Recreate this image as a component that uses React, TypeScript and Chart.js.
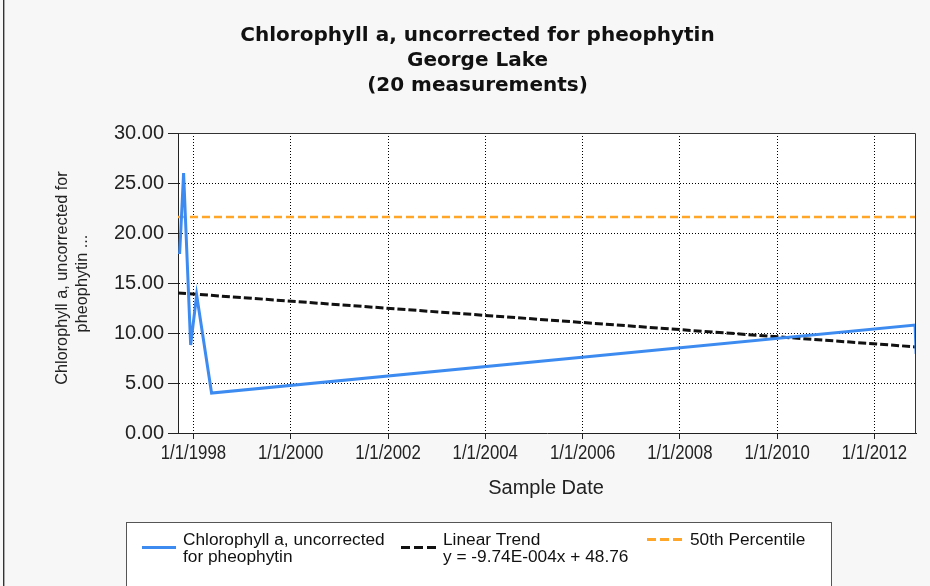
import React, { useEffect, useRef } from "react";
import { Chart, registerables } from "chart.js";

Chart.register(...registerables);

// ---------- data ----------
const TITLE_LINES = ["Chlorophyll a, uncorrected for pheophytin", "George Lake", "(20 measurements)"];
const Y_TITLE_LINES = ["Chlorophyll a, uncorrected for", "pheophytin ..."];
const X_TITLE = "Sample Date";

const SAMPLE_DATES = [
  "1997-09-19",
  "1997-09-29",
  "1997-10-19",
  "1997-12-11",
  "1998-01-25",
  "1998-05-17",
  "2012-11-01",
  "2012-11-09",
];
const SAMPLE_VALUES = [17.9, 20.5, 26.0, 8.8, 13.8, 4.0, 10.8, 7.9];

const TREND_SLOPE = -9.74e-4; // per day (OLE date)
const TREND_INTERCEPT = 48.76;
const PERCENTILE_50 = 21.6;

const X_MIN_DATE = "1997-09-07";
const X_MAX_DATE = "2012-11-08";
const X_TICK_YEARS = [1998, 2000, 2002, 2004, 2006, 2008, 2010, 2012];
const Y_TICKS = [0, 5, 10, 15, 20, 25, 30];

const LEGEND_SERIES = ["Chlorophyll a, uncorrected", "for pheophytin"];
const LEGEND_TREND = ["Linear Trend", "y = -9.74E-004x + 48.76"];
const LEGEND_PCT = ["50th Percentile"];

// ---------- helpers ----------
const oleDay = (s: string) => {
  const [y, m, d] = s.split("-").map(Number);
  return (Date.UTC(y, m - 1, d) - Date.UTC(1899, 11, 30)) / 86400000;
};
const oleToLabel = (v: number) => {
  const dt = new Date(Date.UTC(1899, 11, 30) + v * 86400000);
  return `${dt.getUTCMonth() + 1}/${dt.getUTCDate()}/${dt.getUTCFullYear()}`;
};

const BLUE = "#3D8BF0";
const BLACK = "#111111";
const ORANGE = "#FFA628";
const SANS = '"Liberation Sans", Arial, sans-serif';

const customPlugin = {
  id: "customDecor",
  beforeDraw(chart: any) {
    const { ctx, chartArea: a } = chart;
    ctx.save();
    ctx.fillStyle = "#f7f7f7";
    ctx.fillRect(0, 0, chart.width, chart.height);
    ctx.fillStyle = "#ffffff";
    ctx.fillRect(a.left, a.top, a.right - a.left, a.bottom - a.top);
    ctx.restore();
  },
  afterDraw(chart: any) {
    const { ctx, chartArea: a } = chart;
    ctx.save();
    // plot frame (top & right)
    ctx.strokeStyle = "#333";
    ctx.lineWidth = 1;
    ctx.beginPath();
    ctx.moveTo(Math.round(a.left) + 0.5, Math.round(a.top) + 0.5);
    ctx.lineTo(Math.round(a.right) - 0.5, Math.round(a.top) + 0.5);
    ctx.lineTo(Math.round(a.right) - 0.5, Math.round(a.bottom) + 0.5);
    ctx.stroke();

    // left edge bar
    ctx.fillStyle = "#333";
    ctx.fillRect(3, 0, 1, chart.height);
    ctx.fillStyle = "#aaa";
    ctx.fillRect(4, 0, 1, chart.height);

    // title
    ctx.fillStyle = "#111";
    ctx.textAlign = "center";
    ctx.textBaseline = "middle";
    ctx.font = 'bold 20px "DejaVu Sans", Verdana, sans-serif';
    TITLE_LINES.forEach((t, i) => ctx.fillText(t, 477.5, 36 + i * 25));

    // x tick labels (condensed)
    ctx.fillStyle = "#222";
    ctx.font = `20px ${SANS}`;
    const xs = chart.scales.x;
    xs.ticks.forEach((tk: any) => {
      const px = xs.getPixelForValue(tk.value);
      ctx.save();
      ctx.translate(px, 453);
      ctx.scale(0.84, 1);
      ctx.fillText(oleToLabel(tk.value), 0, 0);
      ctx.restore();
    });

    // x title
    ctx.font = `20px ${SANS}`;
    ctx.fillText(X_TITLE, 546, 488);

    // y title
    ctx.font = `16.3px ${SANS}`;
    const yCenters = [[63, 278], [83, 283.5]];
    Y_TITLE_LINES.forEach((t, i) => {
      ctx.save();
      ctx.translate(yCenters[i][0], yCenters[i][1]);
      ctx.rotate(-Math.PI / 2);
      ctx.fillText(t, 0, 0);
      ctx.restore();
    });

    // legend
    ctx.fillStyle = "#ffffff";
    ctx.fillRect(126, 522, 705, 80);
    ctx.strokeStyle = "#555";
    ctx.lineWidth = 1;
    ctx.strokeRect(126.5, 522.5, 705, 80);

    ctx.lineWidth = 3;
    ctx.strokeStyle = BLUE;
    ctx.setLineDash([]);
    ctx.beginPath();
    ctx.moveTo(142, 547.5);
    ctx.lineTo(176, 547.5);
    ctx.stroke();

    ctx.strokeStyle = BLACK;
    ctx.setLineDash([9, 4]);
    ctx.beginPath();
    ctx.moveTo(401, 547.5);
    ctx.lineTo(436, 547.5);
    ctx.stroke();

    ctx.strokeStyle = ORANGE;
    ctx.beginPath();
    ctx.moveTo(647, 539.5);
    ctx.lineTo(682, 539.5);
    ctx.stroke();
    ctx.setLineDash([]);

    ctx.fillStyle = "#111";
    ctx.textAlign = "left";
    ctx.font = `17.3px ${SANS}`;
    LEGEND_SERIES.forEach((t, i) => ctx.fillText(t, 183, 540 + i * 17));
    LEGEND_TREND.forEach((t, i) => ctx.fillText(t, 443, 540 + i * 17));
    LEGEND_PCT.forEach((t, i) => ctx.fillText(t, 690, 540 + i * 17));
    ctx.restore();
  },
};

export default function App() {
  const ref = useRef<HTMLCanvasElement | null>(null);

  useEffect(() => {
    if (!ref.current) return;
    const xMin = oleDay(X_MIN_DATE);
    const xMax = oleDay(X_MAX_DATE);
    const trend = (x: number) => TREND_SLOPE * x + TREND_INTERCEPT;

    const chart = new Chart(ref.current, {
      type: "line",
      data: {
        datasets: [
          {
            label: "Chlorophyll a, uncorrected for pheophytin",
            data: SAMPLE_DATES.map((d, i) => ({ x: oleDay(d), y: SAMPLE_VALUES[i] })),
            borderColor: BLUE,
            borderWidth: 3,
            pointRadius: 0,
            tension: 0,
          },
          {
            label: "Linear Trend",
            data: [
              { x: xMin, y: trend(xMin) },
              { x: xMax, y: trend(xMax) },
            ],
            borderColor: BLACK,
            borderWidth: 3,
            borderDash: [8, 3],
            pointRadius: 0,
          },
          {
            label: "50th Percentile",
            data: [
              { x: xMin, y: PERCENTILE_50 },
              { x: xMax, y: PERCENTILE_50 },
            ],
            borderColor: ORANGE,
            borderWidth: 2.5,
            borderDash: [8, 4],
            pointRadius: 0,
          },
        ],
      },
      options: {
        responsive: false,
        animation: false,
        devicePixelRatio: 1,
        layout: { padding: { top: 133, right: 14, left: 0, bottom: 0 } },
        plugins: { legend: { display: false }, title: { display: false }, tooltip: { enabled: false } },
        scales: {
          x: {
            type: "linear",
            min: xMin,
            max: xMax,
            afterBuildTicks: (s: any) => {
              s.ticks = X_TICK_YEARS.map((y) => ({ value: oleDay(`${y}-01-01`) }));
            },
            afterFit: (s: any) => {
              s.height = 153;
            },
            ticks: {
              display: false,
              autoSkip: false,
              maxRotation: 0,
              callback: (v: any) => oleToLabel(Number(v)),
            },
            grid: {
              color: "#000",
              lineWidth: 1,
              tickLength: 6,
              tickColor: "#222",
              tickBorderDash: [],
            },
            border: { display: true, color: "#222", width: 1, dash: [1, 2] },
          },
          y: {
            min: 0,
            max: 30,
            afterBuildTicks: (s: any) => {
              s.ticks = Y_TICKS.map((v) => ({ value: v }));
            },
            afterFit: (s: any) => {
              s.width = 178;
            },
            ticks: {
              padding: 4,
              color: "#222",
              font: { family: SANS, size: 20 },
              callback: (v: any) => Number(v).toFixed(2),
            },
            grid: {
              color: "#000",
              lineWidth: 1,
              tickLength: 10,
              tickColor: "#222",
              tickBorderDash: [],
            },
            border: { display: true, color: "#222", width: 1, dash: [1, 2] },
          },
        },
      },
      plugins: [customPlugin],
    });
    return () => chart.destroy();
  }, []);

  return (
    <div style={{ position: "fixed", left: 0, top: 0, width: 930, height: 586, background: "#f7f7f7" }}>
      <canvas ref={ref} width={930} height={586} style={{ width: 930, height: 586, display: "block" }} />
    </div>
  );
}
